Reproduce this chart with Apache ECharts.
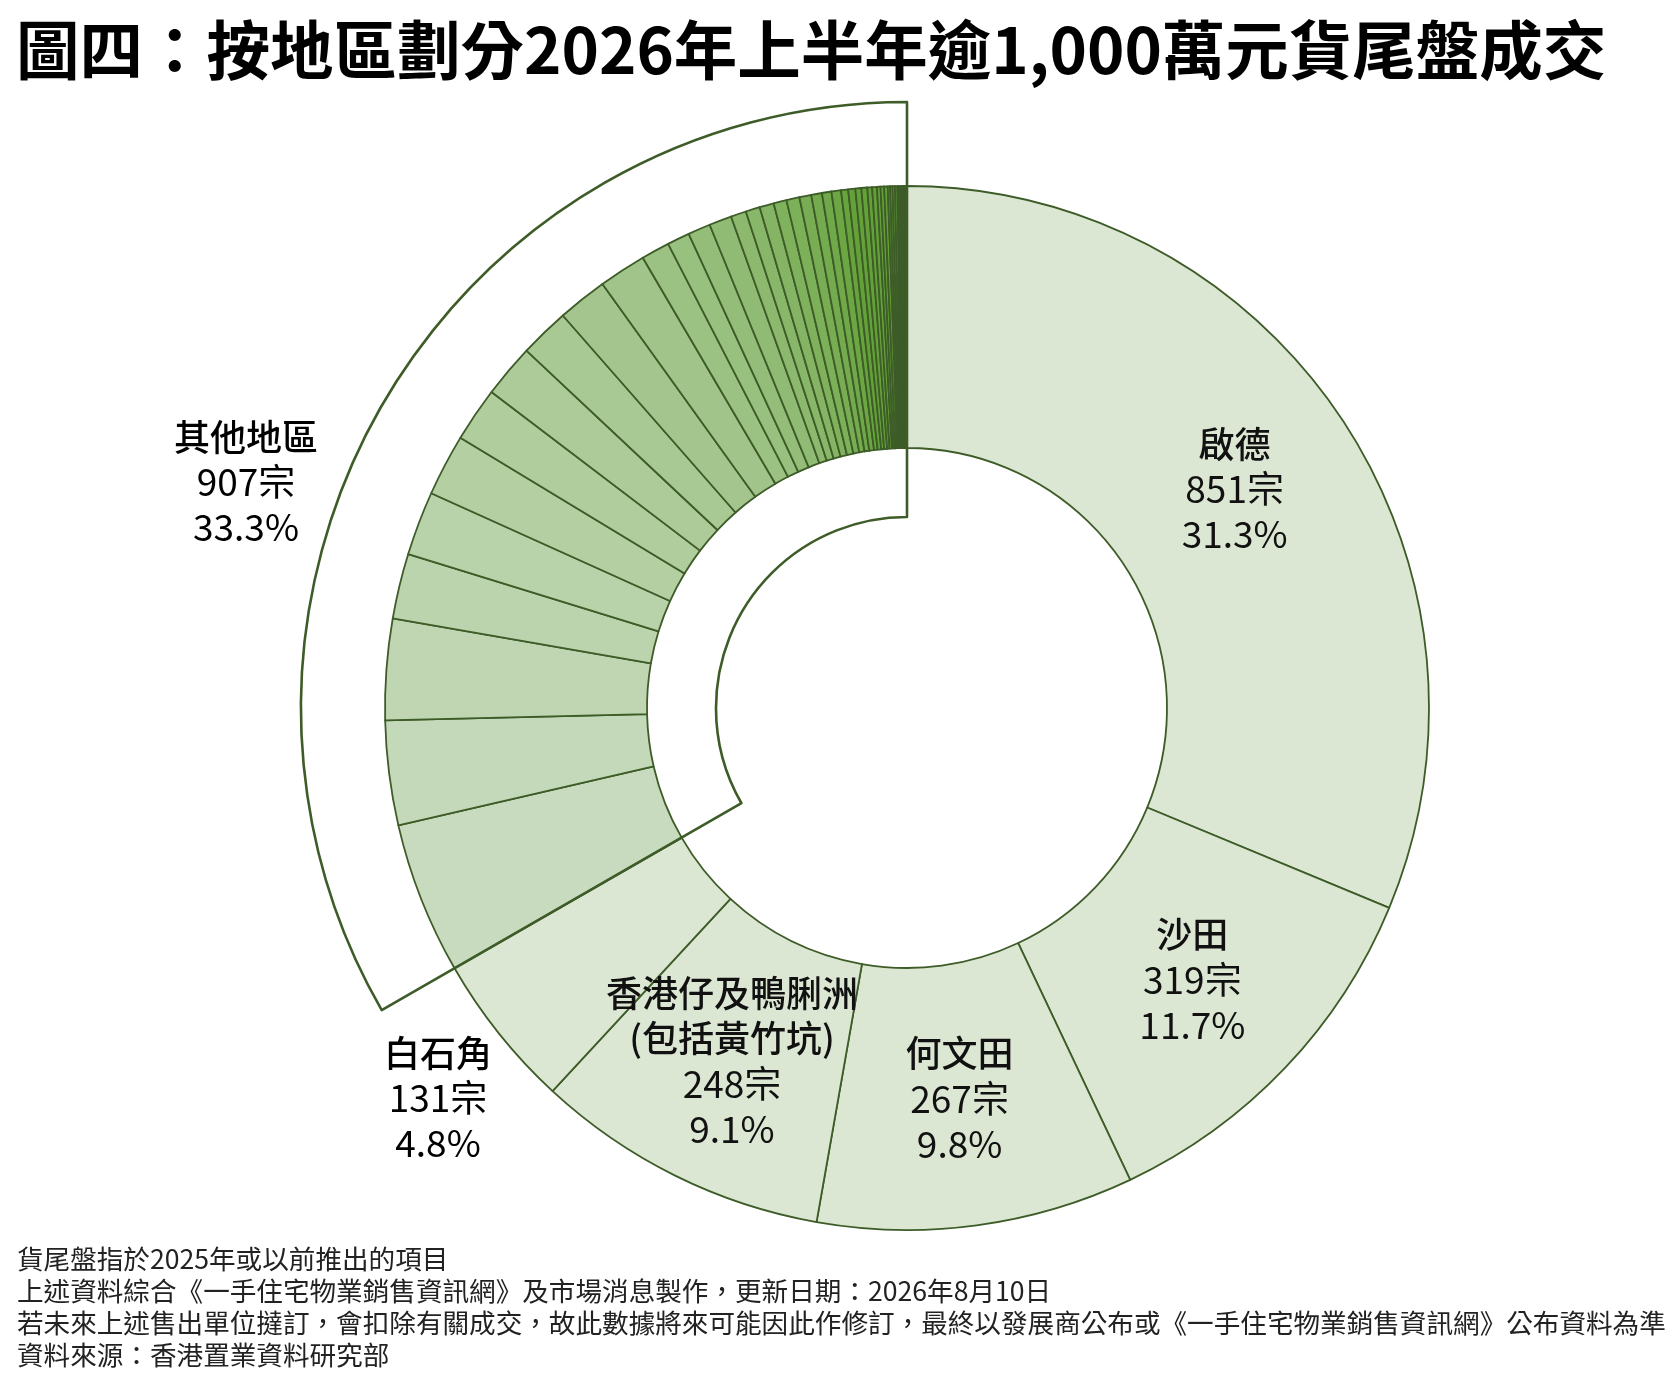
<!DOCTYPE html>
<html>
<head>
<meta charset="utf-8">
<title>圖四：按地區劃分2026年上半年逾1,000萬元貨尾盤成交</title>
<script src="https://cdn.jsdelivr.net/npm/echarts@6/dist/echarts.min.js"></script>
<style>
  html, body { margin: 0; padding: 0; background: #fff; }
  #main { width: 1677px; height: 1389px; }
</style>
</head>
<body>
<div id="main"></div>
<script>
// main districts (clockwise from 12 o'clock)
const districtNames = ['啟德', '沙田', '何文田', '香港仔及鴨脷洲\n(包括黃竹坑)', '白石角'];
const districtCounts = [851, 319, 267, 248, 131];

// 其他地區 - one slice per district (sum 907)
const otherName = '其他地區';
const otherCounts = [128, 88, 85, 55, 54, 52, 46, 45, 42, 42, 40, 24, 19, 19, 19,
  13, 12, 12, 11, 11, 10, 9, 8, 8, 6, 6, 5, 5, 4, 4, 3, 3, 3, 2, 2, 2, 2,
  1, 1, 1, 1, 1, 1, 1, 1];

const titleText = '圖四：按地區劃分2026年上半年逾1,000萬元貨尾盤成交';
const footNotes = [
  '貨尾盤指於2025年或以前推出的項目',
  '上述資料綜合《一手住宅物業銷售資訊網》及市場消息製作，更新日期：2026年8月10日',
  '若未來上述售出單位撻訂，會扣除有關成交，故此數據將來可能因此作修訂，最終以發展商公布或《一手住宅物業銷售資訊網》公布資料為準',
  '資料來源：香港置業資料研究部'
];

const FONT = '"Noto Sans CJK TC", "Noto Sans", sans-serif';
const LINE = '#3d5c28';
const CENTER = [907, 708];

const sum = arr => arr.reduce((a, b) => a + b, 0);
const mainTotal = sum(districtCounts);
const otherTotal = sum(otherCounts);
const total = mainTotal + otherTotal;
const pct = v => (v / total * 100).toFixed(1) + '%';

// name lines heavier, numbers regular
const labelText = (name, v) =>
  name.split('\n').map(s => '{n|' + s + '}').join('\n') + '\n{v|' + v + '宗}\n{v|' + pct(v) + '}';

const richStyle = {
  n: { fontFamily: FONT, fontSize: 36, fontWeight: 500, lineHeight: 45, color: '#111' },
  v: { fontFamily: FONT, fontSize: 37, lineHeight: 45, color: '#111' }
};

// light -> bright green for the small slices
function mix(c0, c1, t) {
  const a = [1, 3, 5].map(i => parseInt(c0.substr(i, 2), 16));
  const b = [1, 3, 5].map(i => parseInt(c1.substr(i, 2), 16));
  return 'rgb(' + a.map((v, i) => Math.round(v + (b[i] - v) * t)).join(',') + ')';
}

let pieData = [];
districtNames.forEach((name, i) => {
  pieData.push({
    name: name,
    value: districtCounts[i],
    itemStyle: { color: '#dce7d3' },
    label: { show: i < 4 }
  });
});
otherCounts.forEach((v, i) => {
  pieData.push({
    name: otherName + (i + 1),
    value: v,
    itemStyle: { color: mix('#c8dbbe', '#64a239', Math.min(1, i / 25)) },
    label: { show: false }
  });
});

const chart = echarts.init(document.getElementById('main'));

const option = {
  backgroundColor: '#fff',
  animation: false,
  title: {
    text: titleText,
    left: 11,
    top: 13,
    textStyle: { fontFamily: FONT, fontSize: 63.5, fontWeight: 'bold', color: '#000' }
  },
  series: [
    {
      type: 'pie',
      center: CENTER,
      radius: [260, 522],
      startAngle: 90,
      clockwise: true,
      silent: true,
      avoidLabelOverlap: false,
      itemStyle: { borderColor: LINE, borderWidth: 1.8 },
      label: {
        position: 'inside',
        formatter: p => labelText(p.name, p.value),
        rich: richStyle
      },
      labelLine: { show: false },
      data: pieData
    },
    {
      // bracket round 其他地區
      type: 'pie',
      center: CENTER,
      radius: [191, 606],
      startAngle: 90,
      clockwise: true,
      silent: true,
      z: 3,
      label: { show: false },
      labelLine: { show: false },
      data: [
        { value: mainTotal, itemStyle: { color: 'transparent', borderWidth: 0 } },
        { value: otherTotal, itemStyle: { color: 'transparent', borderColor: LINE, borderWidth: 2.6 } }
      ]
    }
  ],
  graphic: [
    {
      type: 'text', x: 438, y: 1098,
      style: {
        text: labelText(districtNames[4], districtCounts[4]),
        rich: richStyle, align: 'center', verticalAlign: 'middle'
      }
    },
    {
      type: 'text', x: 246, y: 482,
      style: {
        text: labelText(otherName, otherTotal),
        rich: richStyle, align: 'center', verticalAlign: 'middle'
      }
    },
    {
      type: 'text', x: 17, y: 1243,
      style: {
        text: footNotes.join('\n'),
        fontFamily: FONT,
        fontSize: 26.6,
        lineHeight: 32,
        fill: '#222',
        align: 'left',
        verticalAlign: 'top'
      }
    }
  ]
};

chart.setOption(option);
</script>
</body>
</html>
